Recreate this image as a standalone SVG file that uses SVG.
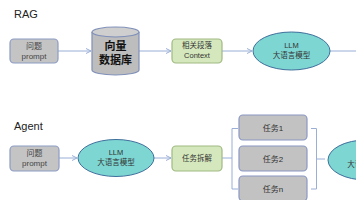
<svg xmlns="http://www.w3.org/2000/svg" width="356" height="200" viewBox="0 0 356 200">
<defs>
<style>
text{font-family:"Liberation Sans","Noto Sans CJK SC",sans-serif;text-anchor:middle}
.title{font-size:11px;fill:#222;text-anchor:start}
.q{fill:#c4c4c4;stroke:#8c9cc4;stroke-width:1.2}
.qt{font-size:8px;fill:#444}
.g{fill:#d5e8bd;stroke:#9fb982;stroke-width:1.2}
.gt{font-size:7.5px;fill:#333}
.llm{fill:#7dd6d2;stroke:#3f6f9c;stroke-width:1}
.lt{font-size:7.5px;fill:#333}
.task{fill:#c2c2c2;stroke:#8a98c4;stroke-width:1.2}
.tt{font-size:8px;fill:#333}
.con{stroke:#9aaed6;stroke-width:1;fill:none}
</style>
<marker id="ah" markerWidth="6" markerHeight="6" refX="5" refY="3" orient="auto" markerUnits="userSpaceOnUse">
<path d="M0,0.5 L5,3 L0,5.5" fill="none" stroke="#9aaed6" stroke-width="1"/>
</marker>
</defs>
<text class="title" x="14" y="18">RAG</text>
<text class="title" x="14" y="130">Agent</text>
<g id="connectors">
<line class="con" x1="58" y1="51" x2="91" y2="51" marker-end="url(#ah)"/>
<line class="con" x1="139" y1="51" x2="171" y2="51" marker-end="url(#ah)"/>
<line class="con" x1="222" y1="51" x2="252" y2="51" marker-end="url(#ah)"/>
<line class="con" x1="330" y1="51" x2="356" y2="51"/>
<line class="con" x1="59" y1="158" x2="77" y2="158" marker-end="url(#ah)"/>
<line class="con" x1="154" y1="158" x2="171" y2="158" marker-end="url(#ah)"/>
<line class="con" x1="222" y1="158" x2="232" y2="158"/>
<path class="con" d="M238,128.5 H232 V189 H238"/>
<path class="con" d="M311,128.5 H316.5 V189 H311"/>
<line class="con" x1="316.5" y1="159" x2="325" y2="159"/>
</g>
<g id="rag-question">
<rect class="q" x="10" y="39" width="48" height="24" rx="4"/>
<text class="qt" x="34" y="48.5">问题</text>
<text class="qt" x="34" y="59">prompt</text>
</g>
<g id="vector-db">
<path d="M92,32 V70 A23.5,5 0 0 0 139,70 V32" fill="#bdbdbd" stroke="#7f8fb8" stroke-width="1.2"/>
<ellipse cx="115.5" cy="32" rx="23.5" ry="5" fill="#cfcfcf" stroke="#7f8fb8" stroke-width="1.2"/>
<text x="115.5" y="50" style="font-size:11px;font-weight:bold;fill:#111">向量</text>
<text x="115.5" y="64" style="font-size:11px;font-weight:bold;fill:#111">数据库</text>
</g>
<g id="context">
<rect class="g" x="172" y="39" width="50" height="24" rx="4"/>
<text class="gt" x="197" y="48">相关段落</text>
<text class="gt" x="197" y="58">Context</text>
</g>
<g id="rag-llm">
<ellipse class="llm" cx="291.5" cy="51" rx="38.5" ry="19"/>
<text class="lt" x="291.5" y="48">LLM</text>
<text class="lt" x="291.5" y="58">大语言模型</text>
</g>
<g id="agent-question">
<rect class="q" x="10" y="146" width="49" height="25" rx="4"/>
<text class="qt" x="34.5" y="155.5">问题</text>
<text class="qt" x="34.5" y="166">prompt</text>
</g>
<g id="agent-llm">
<ellipse class="llm" cx="116" cy="158" rx="38" ry="18.5"/>
<text class="lt" x="116" y="155">LLM</text>
<text class="lt" x="116" y="165">大语言模型</text>
</g>
<g id="decompose">
<rect class="g" x="172" y="146" width="50" height="25" rx="4"/>
<text class="gt" x="197" y="161">任务拆解</text>
</g>
<g id="task1">
<rect class="task" x="239" y="115" width="68" height="25" rx="4"/>
<text class="tt" x="273" y="130.5">任务1</text>
</g>
<g id="task2">
<rect class="task" x="239" y="146" width="68" height="25" rx="4"/>
<text class="tt" x="273" y="161.5">任务2</text>
</g>
<g id="taskn">
<rect class="task" x="239" y="176" width="68" height="25" rx="4"/>
<text class="tt" x="273" y="191.5">任务n</text>
</g>
<g id="agent-llm2">
<ellipse class="llm" cx="366" cy="160" rx="38" ry="20"/>
<text class="lt" x="366" y="157">LLM</text>
<text class="lt" x="366" y="167">大语言模型</text>
</g>
</svg>
